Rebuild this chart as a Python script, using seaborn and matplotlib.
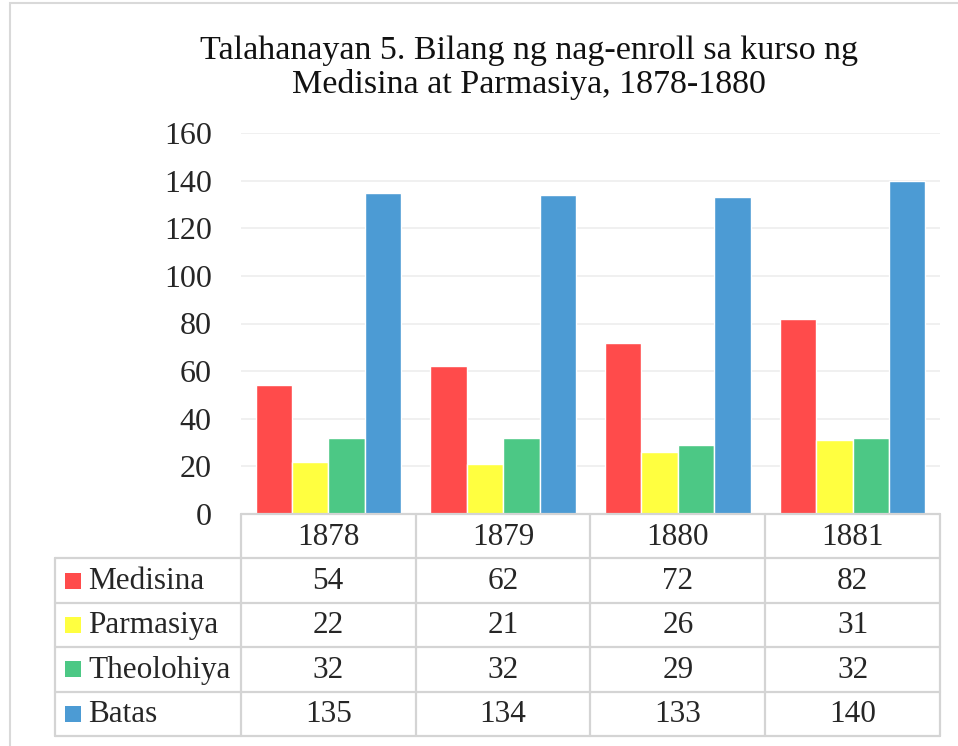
import pandas as pd
import seaborn as sns
from matplotlib import pyplot as plt
from matplotlib.patches import Rectangle

years = ['1878', '1879', '1880', '1881']
courses = ['Medisina', 'Parmasiya', 'Theolohiya', 'Batas']
medisina = [54, 62, 72, 82]
parmasiya = [22, 21, 26, 31]
theolohiya = [32, 32, 29, 32]
batas = [135, 134, 133, 140]
colors = ['#FF4B4B', '#FFFF40', '#4CC885', '#4C9BD4']
title = 'Talahanayan 5. Bilang ng nag-enroll sa kurso ng\nMedisina at Parmasiya, 1878-1880'

values = [medisina, parmasiya, theolohiya, batas]
df = pd.DataFrame({
    'year': [y for _ in courses for y in years],
    'course': [c for c in courses for _ in years],
    'value': [v for row in values for v in row],
})

sns.set_theme(style='white')
plt.rcParams['font.family'] = 'serif'
plt.rcParams['font.serif'] = ['Liberation Serif', 'DejaVu Serif']

W, H = 958, 746
fig = plt.figure(figsize=(W / 100, H / 100), dpi=100)

def px_axes(x0, y0, x1, y1):
    # pixel box (top-left origin) -> figure axes
    return fig.add_axes([x0 / W, 1 - y1 / H, (x1 - x0) / W, (y1 - y0) / H])

# outer chart frame
fig.patches.append(Rectangle((10 / W, -0.05), 1.2, 1 - 3 / H + 0.05,
                             transform=fig.transFigure, fill=False,
                             edgecolor='#D9D9D9', linewidth=1.5))

ax = px_axes(241, 133, 940, 514)
sns.barplot(data=df, x='year', y='value', hue='course', hue_order=courses,
            palette=colors, saturation=1, width=0.834, ax=ax, legend=False)
ax.set_ylim(0, 160)
ax.set_yticks(range(0, 161, 20))
ax.set_xticks([])
ax.set_xlabel('')
ax.set_ylabel('')
ax.tick_params(axis='y', labelsize=23, length=0, pad=21)
ax.grid(axis='y', color='#EDEDED', linewidth=1.2)
ax.set_axisbelow(True)
for s in ax.spines.values():
    s.set_visible(False)

fig.text(529 / W, 1 - 68 / H, title, ha='center', va='center',
         fontsize=24.5, linespacing=1.12, color='#111111')

# data table
tab = px_axes(55, 514, 940, 736)
lab_w = 186 / 175
tab.set_xlim(-lab_w, 4)
tab.set_ylim(5, 0)
tab.axis('off')
line_kw = dict(color='#D4D4D4', linewidth=1.6, clip_on=False)
tab.plot([0, 4], [0, 0], **line_kw)
for r in range(1, 6):
    tab.plot([-lab_w, 4], [r, r], **line_kw)
tab.plot([-lab_w, -lab_w], [1, 5], **line_kw)
for c in range(5):
    tab.plot([c, c], [0, 5], **line_kw)
for j, y in enumerate(years):
    tab.text(j + 0.5, 0.52, y, ha='center', va='center', fontsize=22.5)
for i, (name, row, col) in enumerate(zip(courses, values, colors)):
    tab.add_patch(Rectangle((-lab_w + 0.06, i + 1.5 - 0.18), 0.09, 0.36,
                            facecolor=col, edgecolor='none'))
    tab.text(-lab_w + 0.19, i + 1.52, name, ha='left', va='center', fontsize=22.5)
    for j, v in enumerate(row):
        tab.text(j + 0.5, i + 1.52, str(v), ha='center', va='center', fontsize=22.5)

fig.savefig('out.png', dpi=100)
